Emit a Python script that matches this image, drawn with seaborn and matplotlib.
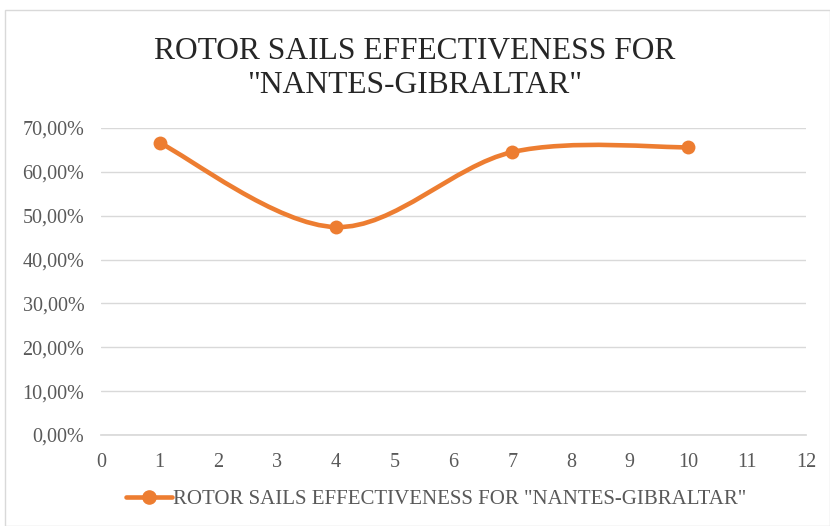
import matplotlib.pyplot as plt
import pandas as pd
import seaborn as sns
from matplotlib.lines import Line2D
from matplotlib.patches import PathPatch, Rectangle
from matplotlib.path import Path
from matplotlib.ticker import FuncFormatter

# data
voyage = [1, 4, 7, 10]
effectiveness = [66.6, 47.4, 64.5, 65.6]  # %
series_name = 'ROTOR SAILS EFFECTIVENESS FOR "NANTES-GIBRALTAR"'
title = 'ROTOR SAILS EFFECTIVENESS FOR\n"NANTES-GIBRALTAR"'

ORANGE = "#ED7D31"
GRID = "#D9D9D9"
TXT = "#595959"


def smooth_path(xs, ys):
    # Excel style smoothed line: cubic bezier, control points from neighbours
    pts = list(zip(xs, ys))
    verts = [pts[0]]
    codes = [Path.MOVETO]
    for i in range(len(pts) - 1):
        p0 = pts[max(i - 1, 0)]
        p1 = pts[i]
        p2 = pts[i + 1]
        p3 = pts[min(i + 2, len(pts) - 1)]
        c1 = (p1[0] + (p2[0] - p0[0]) / 6, p1[1] + (p2[1] - p0[1]) / 6)
        c2 = (p2[0] - (p3[0] - p1[0]) / 6, p2[1] - (p3[1] - p1[1]) / 6)
        verts += [c1, c2, p2]
        codes += [Path.CURVE4] * 3
    return Path(verts, codes)


if __name__ == "__main__":
    sns.set_theme(style="white")
    plt.rcParams["font.family"] = ["Liberation Serif", "DejaVu Serif"]

    df = pd.DataFrame({"voyage": voyage, "eff": effectiveness})

    fig = plt.figure(figsize=(8.3, 5.26), dpi=100)
    ax = fig.add_axes([0.1217, 0.173, 0.8493, 0.5837])

    # chart area border
    fig.patches.append(Rectangle((0.006, 0.0), 0.994, 0.981, transform=fig.transFigure,
                                 fill=False, edgecolor=GRID, lw=1.0))

    ax.add_patch(PathPatch(smooth_path(df["voyage"], df["eff"]), fill=False,
                           edgecolor=ORANGE, lw=3.3, capstyle="round", zorder=3))
    sns.scatterplot(data=df, x="voyage", y="eff", color=ORANGE, s=100,
                    edgecolor=ORANGE, linewidth=0, zorder=4, ax=ax)

    ax.set_xlim(0, 12)
    ax.set_ylim(0, 70)
    ax.set_xticks(range(0, 13))
    ax.set_yticks(range(0, 71, 10))
    ax.yaxis.set_major_formatter(FuncFormatter(lambda v, _: f"{v:.2f}%".replace(".", ",")))
    ax.grid(axis="y", color=GRID, lw=1.0)
    ax.set_axisbelow(True)
    sns.despine(ax=ax, left=True, top=True, right=True)
    ax.spines["bottom"].set_color(GRID)
    ax.tick_params(axis="both", length=0, labelsize=14.5, colors=TXT)
    ax.tick_params(axis="x", pad=13)
    ax.tick_params(axis="y", pad=12)
    ax.set_xlabel("")
    ax.set_ylabel("")

    fig.suptitle(title, fontsize=22.7, color="#262626", y=0.93, linespacing=1.25)

    handle = Line2D([], [], color=ORANGE, lw=3.3, marker="o", markersize=9.5)
    fig.legend([handle], [series_name], loc="center", bbox_to_anchor=(0.525, 0.05),
               frameon=False, fontsize=15, handlelength=2.2, handletextpad=0.05,
               labelcolor=TXT)

    fig.savefig("out.png", dpi=100)
